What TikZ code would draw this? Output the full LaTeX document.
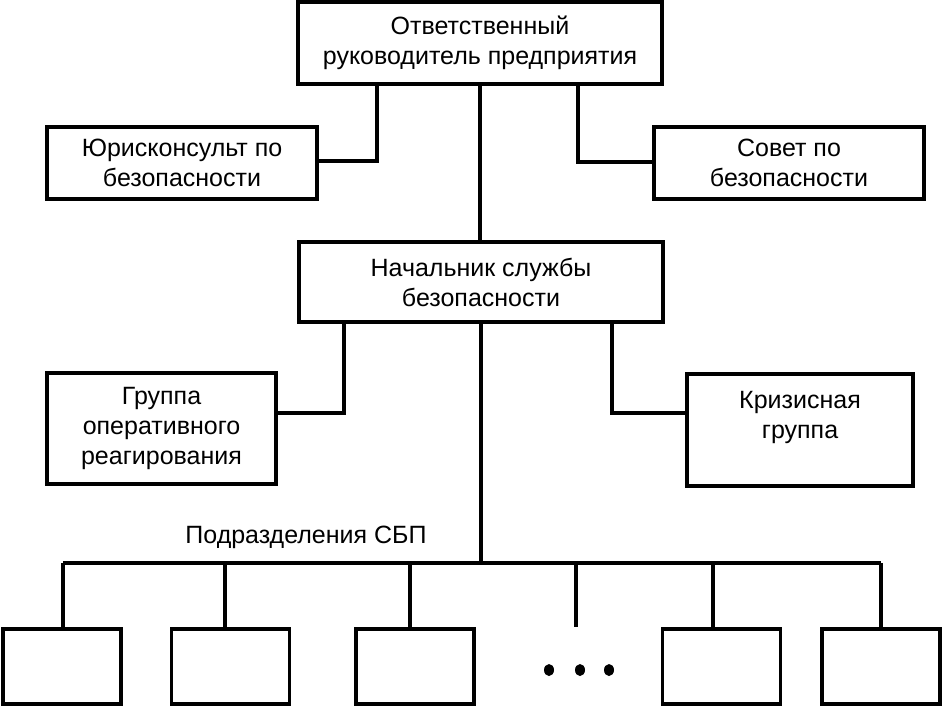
\documentclass[tikz,border=0pt]{standalone}
\usepackage{fontspec}
\setmainfont{Liberation Sans}
\tikzstyle{box} = [rectangle, draw=black, line width=3.2pt, align=center, inner sep=0pt, font=\fontsize{25}{30}\selectfont]
\tikzstyle{unit} = [box, minimum width=118pt, minimum height=75pt]
\tikzstyle{tag} = [font=\fontsize{25}{30}\selectfont]
\tikzstyle{wire} = [line width=3.2pt]
\begin{document}
\begin{tikzpicture}[x=1pt, y=-1pt]
	\useasboundingbox (0,0) rectangle (942,706);
	\node (boss) [box, minimum width=364pt, minimum height=82pt] at (480,43) {Ответственный\\руководитель предприятия};
	\node (legal) [box, minimum width=270pt, minimum height=72pt] at (182,163) {Юрисконсульт по\\безопасности};
	\node (council) [box, minimum width=270pt, minimum height=72pt] at (789,163) {Совет по\\безопасности};
	\node (chief) [box, minimum width=364pt, minimum height=80pt] at (481,282) {Начальник службы\\безопасности};
	\node (rapid) [box, minimum width=229pt, minimum height=111pt] at (161.5,428.5) {Группа\\оперативного\\реагирования};
	\node (crisis) [box, minimum width=226pt, minimum height=112pt] at (800,430) {Кризисная\\группа\\~};
	\node (sbp) [tag] at (306,537) {Подразделения СБП};
	\foreach \n/\x in {u1/62, u2/230.5, u3/415, u4/721.5, u5/881}
		\node (\n) [unit] at (\x,666.5) {};
	\foreach \i/\x in {1/63, 2/225, 3/410, 4/576, 5/713, 6/881}
		\coordinate (b\i) at (\x,563);
	% top level
	\draw [wire] (boss.south) -- (boss.south |- chief.north);
	\draw [wire] ([xshift=-103pt]boss.south) |- ([yshift=2pt]legal.east);
	\draw [wire] ([xshift=98pt]boss.south) |- ([yshift=1pt]council.west);
	% security service
	\draw [wire] ([xshift=-137pt]chief.south) |- ([yshift=15.5pt]rapid.east);
	\draw [wire] ([xshift=131pt]chief.south) |- ([yshift=17pt]crisis.west);
	\draw [wire] (chief.south) -- (chief.south |- b1);
	% subdivisions
	\draw [wire] (b1) -- (b6);
	\draw [wire] (b1) -- (b1 |- u1.north);
	\draw [wire] (b2) -- (b2 |- u2.north);
	\draw [wire] (b3) -- (b3 |- u3.north);
	\draw [wire] (b4) -- (b4 |- u1.north);
	\draw [wire] (b5) -- (b5 |- u4.north);
	\draw [wire] (b6) -- (b6 |- u5.north);
	\foreach \x in {549,580,609}
		\fill (\x,670) ellipse (5pt and 6pt);
\end{tikzpicture}
\end{document}
